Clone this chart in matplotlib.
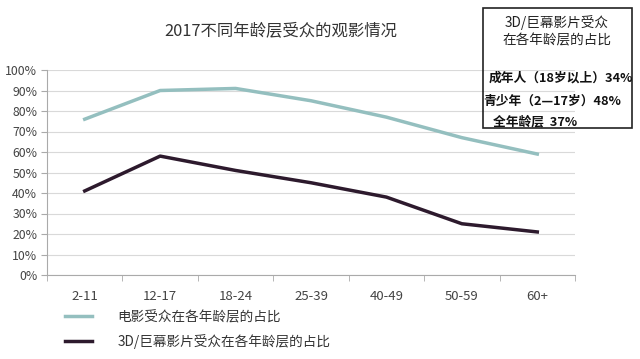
import matplotlib
matplotlib.use("Agg")
import matplotlib.pyplot as plt
from matplotlib.patches import Rectangle

plt.rcParams['font.family'] = ['Noto Sans CJK SC', 'DejaVu Sans']

categories = ["2-11", "12-17", "18-24", "25-39", "40-49", "50-59", "60+"]
movie_share = [76, 90, 91, 85, 77, 67, 59]
imax_share = [41, 58, 51, 45, 38, 25, 21]
series_names = ["电影受众在各年龄层的占比", "3D/巨幕影片受众在各年龄层的占比"]
yticks = [0, 10, 20, 30, 40, 50, 60, 70, 80, 90, 100]
title = "2017不同年龄层受众的观影情况"
box_title = ["3D/巨幕影片受众", "在各年龄层的占比"]
box_lines = ["成年人（18岁以上）34%", "青少年（2—17岁）48%", "全年龄层  37%"]

W, H = 640, 359
fig = plt.figure(figsize=(W / 100, H / 100), dpi=100)
ax = fig.add_axes([47 / W, 1 - 275 / H, (575 - 47) / W, (275 - 70) / H])

x = list(range(len(categories)))
l1, = ax.plot(x, movie_share, color="#94bfbf", lw=2.5)
l2, = ax.plot(x, imax_share, color="#2d1a2d", lw=2.5)

ax.set_xlim(-0.5, len(categories) - 0.5)
ax.set_ylim(0, 100)
ax.set_yticks(yticks)
ax.set_yticklabels([f"{v}%" for v in yticks], fontsize=8.8, color="#444444")
ax.set_xticks(x)
ax.set_xticklabels(categories, fontsize=9.5, color="#444444")
ax.set_xticks([i - 0.5 for i in range(len(categories) + 1)], minor=True)
ax.tick_params(axis="x", which="major", length=0, pad=11)
ax.tick_params(axis="x", which="minor", length=4, color="#aaaaaa", direction="out")
ax.tick_params(axis="y", length=4, color="#aaaaaa", pad=3)
ax.grid(axis="y", color="#d9d9d9", lw=0.8)
ax.set_axisbelow(True)
for s in ["top", "right"]:
    ax.spines[s].set_visible(False)
for s in ["left", "bottom"]:
    ax.spines[s].set_color("#aaaaaa")
    ax.spines[s].set_linewidth(0.8)

fig.text(281 / W, 1 - 32 / H, title, ha="center", va="center", fontsize=11.8, color="#333333")

fig.legend([l1, l2], series_names, loc="upper left", bbox_to_anchor=(65 / W, 1 - 310 / H),
           frameon=False, fontsize=9.8, handlelength=2.0, handletextpad=1.85,
           labelspacing=0.75, borderaxespad=0, borderpad=0, labelcolor="#333333")

fig.patches.append(Rectangle((483 / W, 1 - 128 / H), (632 - 483) / W, (128 - 8) / H,
                             transform=fig.transFigure, fill=False, ec="#222222", lw=1.2))
fig.text(557 / W, 1 - 23 / H, box_title[0], ha="center", va="center", fontsize=9.8, color="#222222")
fig.text(557 / W, 1 - 40 / H, box_title[1], ha="center", va="center", fontsize=9.8, color="#222222")
fig.text(489 / W, 1 - 78 / H, box_lines[0], ha="left", va="center", fontsize=9.2, fontweight="bold", color="#111111")
fig.text(483 / W, 1 - 101 / H, box_lines[1], ha="left", va="center", fontsize=9.2, fontweight="bold", color="#111111")
fig.text(493 / W, 1 - 122 / H, box_lines[2], ha="left", va="center", fontsize=9.2, fontweight="bold", color="#111111")

fig.savefig("out.png", dpi=100, facecolor="white")
